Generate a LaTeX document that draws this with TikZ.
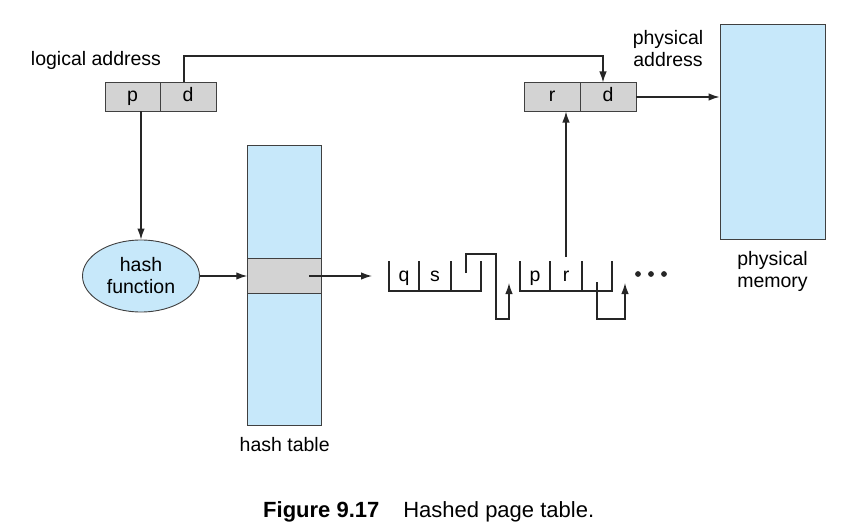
\documentclass[tikz,border=0pt]{standalone}
\usepackage{fontspec}
\setmainfont{Liberation Sans}
\usetikzlibrary{positioning,arrows.meta,shapes.geometric}
\definecolor{memblue}{RGB}{199,232,250}
\definecolor{cellgray}{RGB}{211,211,211}
\definecolor{edgegray}{RGB}{64,64,64}
\tikzset{>={Latex[length=11pt,width=7.5pt]}}
\def\lblfont{\fontsize{19.5}{22}\selectfont}
\def\capfont{\fontsize{22}{26}\selectfont}

\begin{document}
\begin{tikzpicture}[x=1pt,y=-1pt,
    cell/.style={draw=edgegray,fill=cellgray,line width=0.9pt,minimum width=56pt,
      minimum height=29pt,inner sep=0pt,outer sep=0pt,font=\lblfont,
      text height=14pt,text depth=4pt},
    slot/.style={minimum height=30pt,inner sep=0pt,outer sep=0pt,font=\lblfont,
      text height=14pt,text depth=4pt},
    lbl/.style={inner sep=0pt,font=\lblfont,align=center},
    mbox/.style={draw=edgegray,fill=memblue,line width=0.9pt,inner sep=0pt},
    link/.style={line width=1.3pt,draw=black!85}]
  \useasboundingbox (0,0) rectangle (852,527);

  % logical address
  \node[cell,minimum width=55pt] (lp) at (132.5,96.5) {p};
  \node[cell,right=0pt of lp] (ld) {d};
  \node[lbl] (la) at (96,60) {logical address};

  % physical address and memory
  \node[cell] (pr) at (552,97) {r};
  \node[cell,right=0pt of pr] (pd) {d};
  \node[lbl] (pa) at (668,49) {physical\\address};
  \node[mbox,minimum width=105pt,minimum height=215pt] (mem) at (772.5,131.5) {};
  \node[lbl,below=12pt of mem] (ml) {physical\\memory};

  % hash table and hash function
  \node[mbox,minimum width=74pt,minimum height=280pt] (ht) at (284.7,285.9) {};
  \node[mbox,fill=cellgray,minimum width=74pt,minimum height=35.4pt] (hb) at (284.7,276) {};
  \node[lbl,below=11pt of ht] (htl) {hash table};
  \node[mbox,ellipse,minimum width=117pt,minimum height=72pt,font=\lblfont,align=center] (hf) at (141,276) {hash\\function};

  % chain entries
  \node[slot,minimum width=30pt] (q1) at (404,276) {q};
  \node[slot,minimum width=32pt,right=0pt of q1] (s1) {s};
  \node[slot,minimum width=30pt,right=0pt of s1] (n1) {};
  \node[slot,minimum width=30pt] (p2) at (535,276) {p};
  \node[slot,minimum width=32pt,right=0pt of p2] (r2) {r};
  \node[slot,minimum width=30pt,right=0pt of r2] (n2) {};
  \foreach \a/\b/\c in {q1/s1/n1,p2/r2/n2}
    \draw[link] (\a.north west) |- (\c.south east) -- (\c.north east)
      (\a.north east) -- (\a.south east) (\b.north east) -- (\b.south east);
  \foreach \x in {638,651,664}
    \fill[black!85] (\x,274) circle (2.9pt);

  \coordinate (c0) at ([xshift=-17pt]q1.west);
  \coordinate (c1) at (509,283);
  \coordinate (c2) at (625,283);

  \draw[link,->] ([xshift=-4pt]ld.north) -- ++(0,-26) -| ([xshift=-5pt]pd.north);
  \draw[link,->] (pd.east) -- (pd.east -| mem.west);
  \draw[link,->] (lp.south -| hf.north) -- (hf.north);
  \draw[link,->] (hf.east) -- (hf.east -| hb.west);
  \draw[link,->] ([xshift=-13pt]hb.east) -- (c0);
  \draw[link,->] ([yshift=3pt]n1.center) |- ++(30,-19) |- ++(13,65) -- (c1);
  \draw[link,->] ([yshift=-6pt]n2.center) |- ++(28,37) -- (c2);
  \draw[link,->] ([yshift=4pt]r2.north) -- (r2.north |- pr.south);

  \node[anchor=base west,inner sep=0pt,font=\capfont] (cap) at (263,517)
    {\textbf{Figure 9.17}\hspace{24pt}Hashed page table.};
\end{tikzpicture}
\end{document}
